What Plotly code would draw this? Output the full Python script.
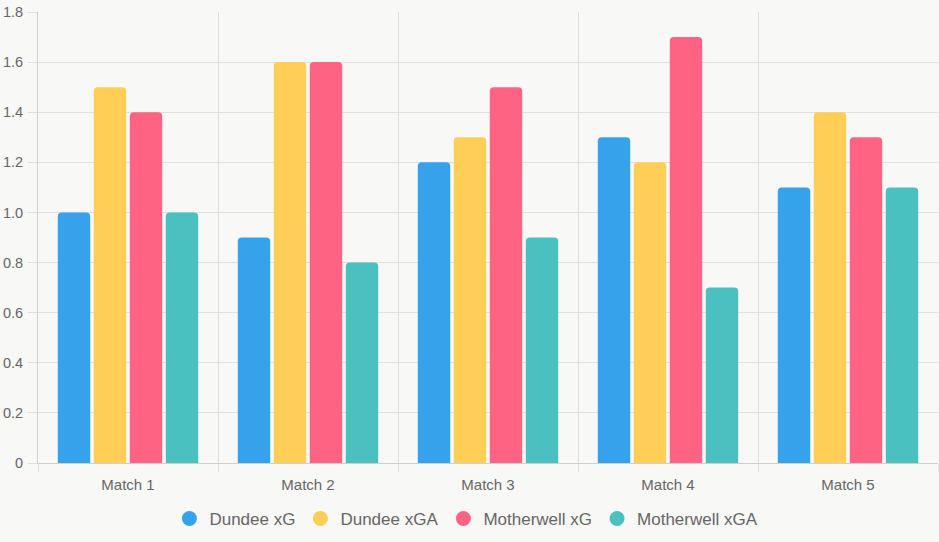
import plotly.graph_objects as go

categories = ["Match 1", "Match 2", "Match 3", "Match 4", "Match 5"]
dundee_xg = [1.0, 0.9, 1.2, 1.3, 1.1]
dundee_xga = [1.5, 1.6, 1.3, 1.2, 1.4]
motherwell_xg = [1.4, 1.6, 1.5, 1.7, 1.3]
motherwell_xga = [1.0, 0.8, 0.9, 0.7, 1.1]
series_names = ["Dundee xG", "Dundee xGA", "Motherwell xG", "Motherwell xGA"]
colors = ["#36A2EB", "#FFCE56", "#FF6384", "#4BC0C0"]
y_ticks = [0, 0.2, 0.4, 0.6, 0.8, 1.0, 1.2, 1.4, 1.6, 1.8]
y_tick_labels = ["0", "0.2", "0.4", "0.6", "0.8", "1.0", "1.2", "1.4", "1.6", "1.8"]

series = [dundee_xg, dundee_xga, motherwell_xg, motherwell_xga]

fig = go.Figure()
for name, vals, col in zip(series_names, series, colors):
    fig.add_trace(go.Bar(x=categories, y=vals, name=name, marker=dict(color=col, line=dict(width=0)),
                         showlegend=False))
for name, col in zip(series_names, colors):
    fig.add_trace(go.Scatter(x=[None], y=[None], mode="markers", name=name,
                             marker=dict(symbol="circle", size=15, color=col)))

bg = "#f8f8f6"
fig.update_layout(
    width=939, height=542,
    margin=dict(l=38, r=1, t=12, b=79),
    paper_bgcolor=bg, plot_bgcolor=bg,
    barmode="group", bargap=0.2, bargroupgap=0.1, barcornerradius=4,
    font=dict(family="Liberation Sans, Arial, sans-serif", color="#666666", size=14),
    showlegend=True,
    legend=dict(orientation="h", x=0.476, xanchor="center", y=-0.124, yanchor="middle",
                font=dict(size=17, color="#666666"), itemwidth=30, bgcolor="rgba(0,0,0,0)"),
    xaxis=dict(type="category", tickson="boundaries", showgrid=True, gridcolor="#dfdfdd",
               gridwidth=1, ticks="outside", ticklen=8, tickcolor="#dfdfdd",
               showline=True, linecolor="#cfcfcd", linewidth=1, range=[-0.5, 4.5],
               tickfont=dict(size=15, color="#666666"), ticklabelstandoff=8),
    yaxis=dict(range=[0, 1.8], tickvals=y_ticks, ticktext=y_tick_labels, showgrid=True,
               gridcolor="#dfdfdd", gridwidth=1, ticks="outside", ticklen=9, tickcolor="#dfdfdd",
               showline=True, linecolor="#cfcfcd", linewidth=1, zeroline=False,
               tickfont=dict(size=14.5, color="#666666"), ticklabelstandoff=2),
)

fig.write_html("out.html")
